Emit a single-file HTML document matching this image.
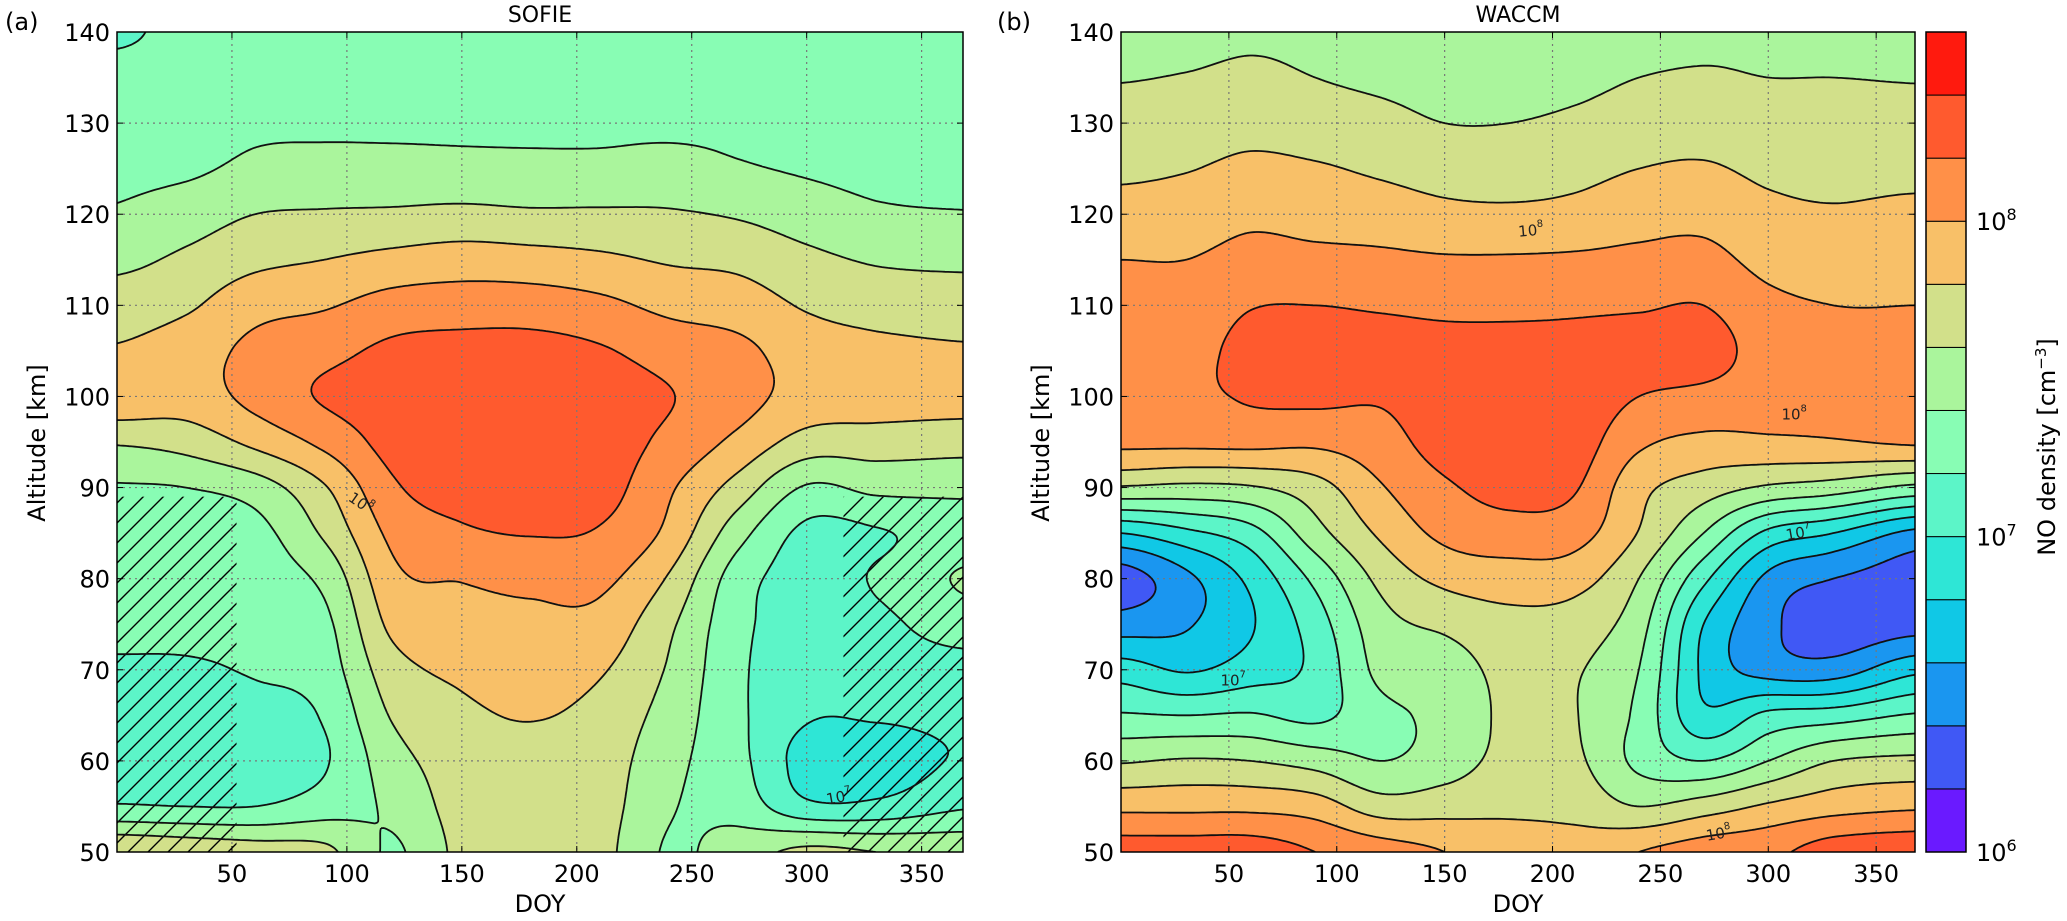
<!DOCTYPE html>
<html><head><meta charset="utf-8"><style>
html,body{margin:0;padding:0;background:#fff;}
svg{display:block;font-family:"DejaVu Sans","Liberation Sans",sans-serif;}
</style></head><body>
<svg id="fig" width="2067" height="921" viewBox="0 0 2067 921" xmlns="http://www.w3.org/2000/svg">
<defs>
<pattern id="hatch" patternUnits="userSpaceOnUse" width="20" height="20">
<path d="M0,20 L20,0 M-5,5 L5,-5 M15,25 L25,15" stroke="#000" stroke-width="1.4"/>
</pattern>
<clipPath id="clipA"><rect x="117" y="32" width="846" height="820"/></clipPath>
<clipPath id="clipB"><rect x="1121" y="32" width="794" height="820"/></clipPath>
</defs>
<g id="panelA"></g>
<g id="panelB"></g>
<g id="cbar"></g>
<text x="5" y="30" font-size="24">(a)</text>
<text x="997" y="30" font-size="24">(b)</text>
<text x="540" y="22" font-size="22" text-anchor="middle">SOFIE</text>
<text x="1518" y="22" font-size="22" text-anchor="middle">WACCM</text>
<text x="540" y="912" font-size="24" text-anchor="middle">DOY</text>
<text x="1518" y="912" font-size="24" text-anchor="middle">DOY</text>
<text transform="translate(45,443) rotate(-90)" font-size="24" text-anchor="middle">Altitude [km]</text>
<text transform="translate(1049,443) rotate(-90)" font-size="24" text-anchor="middle">Altitude [km]</text>
<text transform="translate(2055,447) rotate(-90)" font-size="24" text-anchor="middle">NO density [cm<tspan dy="-9" font-size="15">−3</tspan><tspan dy="9">]</tspan></text>
</svg>
<script>
const doys=[0,30,60,90,120,150,180,210,240,270,300,330,368];
const alts=[140,135,130,125,120,115,110,105,100,95,90,85,80,75,70,65,60,55,50];
const levels=[6.0,6.2,6.4,6.6,6.8,7.0,7.2,7.4,7.6,7.8,8.0,8.2,8.4,8.6];
const bandColors=["#6a1aff","#4058f5","#1a96f0","#10c8e6","#2ee6d6","#5cf5c8","#88fdb4","#aaf59c","#d2e08a","#f8c068","#ff9048","#ff5a2e","#ff1a0e"];
const xTicks=[50,100,150,200,250,300,350];
const yTicks=[50,60,70,80,90,100,110,120,130,140];
const cbTicks=[6,7,8];
// log10 NO density, one array per DOY column, altitudes 140..50 km
const sofie=[
[7.15,7.3,7.32,7.36,7.42,7.55,7.7,7.82,7.95,7.62,7.38,7.25,7.28,7.25,7.17,7.08,7.08,7.22,7.8],
[7.28,7.3,7.33,7.37,7.5,7.64,7.77,7.9,7.9,7.68,7.4,7.25,7.28,7.26,7.17,7.08,7.07,7.2,7.75],
[7.3,7.33,7.37,7.44,7.6,7.75,7.93,8.05,8.06,7.85,7.5,7.33,7.3,7.27,7.22,7.12,7.1,7.2,7.7],
[7.32,7.34,7.37,7.46,7.62,7.8,7.98,8.14,8.22,8.05,7.78,7.63,7.45,7.35,7.3,7.22,7.18,7.3,7.65],
[7.32,7.34,7.36,7.47,7.63,7.86,8.08,8.24,8.29,8.27,8.17,8.05,7.95,7.85,7.72,7.62,7.52,7.44,7.38],
[7.32,7.34,7.36,7.46,7.65,7.9,8.1,8.27,8.31,8.33,8.28,8.17,8.01,7.93,7.84,7.76,7.7,7.68,7.65],
[7.31,7.33,7.36,7.45,7.63,7.88,8.1,8.27,8.32,8.33,8.3,8.21,8.05,7.95,7.88,7.81,7.74,7.7,7.68],
[7.31,7.33,7.36,7.45,7.63,7.84,8.05,8.22,8.29,8.3,8.28,8.18,8.05,7.93,7.82,7.74,7.7,7.68,7.66],
[7.31,7.33,7.36,7.47,7.62,7.78,7.95,8.12,8.21,8.15,8.03,7.95,7.78,7.64,7.58,7.52,7.46,7.42,7.38],
[7.3,7.33,7.36,7.42,7.58,7.75,7.9,8.05,8.08,7.95,7.72,7.48,7.3,7.26,7.24,7.24,7.26,7.32,7.5],
[7.3,7.32,7.34,7.38,7.5,7.65,7.78,7.9,7.92,7.72,7.38,7.15,7.12,7.1,7.07,7.02,6.92,7.05,7.65],
[7.28,7.3,7.32,7.35,7.43,7.58,7.72,7.85,7.9,7.7,7.45,7.18,7.22,7.15,7.1,7.02,6.9,7.05,7.6],
[7.2,7.27,7.3,7.34,7.41,7.56,7.7,7.82,7.88,7.68,7.45,7.3,7.42,7.3,7.12,7.05,7.02,7.18,7.55]
];
const waccm=[
[7.5,7.59,7.67,7.76,7.88,8.0,8.07,8.12,8.12,8.05,7.58,6.8,6.3,6.5,6.9,7.22,7.58,7.95,8.3],
[7.53,7.61,7.7,7.79,7.9,8.0,8.08,8.14,8.15,8.05,7.55,6.95,6.55,6.58,6.78,7.2,7.62,7.95,8.3],
[7.57,7.64,7.74,7.84,7.96,8.06,8.19,8.25,8.22,8.06,7.58,7.12,6.85,6.78,6.9,7.22,7.6,7.95,8.3],
[7.55,7.6,7.7,7.82,7.93,8.05,8.2,8.27,8.24,8.04,7.72,7.52,7.25,7.1,7.05,7.15,7.52,7.9,8.2],
[7.5,7.56,7.66,7.77,7.9,8.04,8.18,8.27,8.22,8.12,7.98,7.83,7.65,7.52,7.45,7.35,7.4,7.7,8.1],
[7.46,7.52,7.6,7.72,7.85,8.02,8.16,8.26,8.3,8.28,8.17,8.05,7.85,7.64,7.5,7.45,7.5,7.72,8.0],
[7.45,7.5,7.6,7.7,7.84,8.02,8.16,8.26,8.33,8.32,8.26,8.12,7.9,7.74,7.66,7.64,7.66,7.76,7.9],
[7.48,7.54,7.64,7.74,7.86,8.03,8.17,8.26,8.32,8.3,8.22,8.08,7.88,7.7,7.62,7.61,7.64,7.74,7.88],
[7.52,7.6,7.7,7.8,7.92,8.05,8.18,8.28,8.2,8.04,7.86,7.79,7.6,7.48,7.4,7.35,7.35,7.6,8.0],
[7.56,7.62,7.72,7.82,7.94,8.06,8.2,8.28,8.15,7.95,7.7,7.4,7.05,6.8,6.76,6.85,7.2,7.7,8.1],
[7.55,7.6,7.68,7.76,7.85,7.94,8.05,8.12,8.1,7.96,7.57,6.95,6.55,6.45,6.52,7.05,7.4,7.83,8.15],
[7.52,7.6,7.67,7.74,7.82,7.91,8.0,8.07,8.08,7.98,7.5,6.8,6.4,6.28,6.5,7.1,7.6,7.92,8.3],
[7.5,7.59,7.66,7.74,7.85,7.93,8.0,8.04,8.08,8.03,7.35,6.55,6.3,6.32,6.75,7.22,7.65,7.97,8.35]
];
const NS="http://www.w3.org/2000/svg";
function mk(tag,attrs,parent){const e=document.createElementNS(NS,tag);for(const k in attrs)e.setAttribute(k,attrs[k]);if(parent)parent.appendChild(e);return e;}
function cub(p0,p1,p2,p3,t){return p1+0.5*t*(p2-p0+t*(2*p0-5*p1+4*p2-p3+t*(3*(p1-p2)+p3-p0)));}
function field(g,d,a){
  let i=0;while(i<doys.length-2&&d>doys[i+1])i++;
  let t=(d-doys[i])/(doys[i+1]-doys[i]);t=Math.max(0,Math.min(1,t));
  let u=(alts[0]-a)/5;let k=Math.floor(u);if(k>alts.length-2)k=alts.length-2;if(k<0)k=0;let s=u-k;s=Math.max(0,Math.min(1,s));
  const col=j=>{j=Math.max(0,Math.min(doys.length-1,j));const c=g[j];const r=q=>c[Math.max(0,Math.min(c.length-1,q))];return cub(r(k-1),r(k),r(k+1),r(k+2),s);};
  return cub(col(i-1),col(i),col(i+1),col(i+2),t);
}
function band(v){let b=Math.floor((v-levels[0])/0.2);return Math.max(0,Math.min(bandColors.length-1,b));}
function drawPanel(gid,grid,L,T,W,H,clip,hatches,labels,name){
  const root=document.getElementById(gid);
  const xS=d=>L+d/368*W, yS=a=>T+(140-a)/90*H;
  const xInv=px=>(px-L)/W*368, yInv=py=>140-(py-T)/H*90;
  const fill=mk('g',{'clip-path':'url(#'+clip+')'},root);
  
  
  const step=2;
  for(let py=T;py<T+H;py+=step){
    const a=yInv(py+step/2);let runStart=L,cur=-1;
    for(let px=L;px<=L+W;px++){
      const b=px<L+W?band(field(grid,xInv(px+0.5),a)):-2;
      if(b!==cur){
        if(cur>=0){mk('rect',{x:runStart,y:py,width:px-runStart+0.6,height:step+0.6,fill:bandColors[cur]},fill);}
        cur=b;runStart=px;
      }
    }
  }
  const gridG=mk('g',{stroke:'#777','stroke-width':1.2,'stroke-dasharray':'2,4'},root);
  
  
  xTicks.forEach(d=>mk('line',{x1:xS(d),x2:xS(d),y1:T,y2:T+H},gridG));
  yTicks.forEach(a=>{if(a>50&&a<140)mk('line',{x1:L,x2:L+W,y1:yS(a),y2:yS(a)},gridG);});
  hatches.forEach(h=>{const r=mk('rect',{x:xS(h[0]),y:yS(h[3]),width:xS(h[1])-xS(h[0]),height:yS(h[2])-yS(h[3]),fill:'url(#hatch)','clip-path':'url(#'+clip+')'},root);
    
    });
  const cs=3;const nx=Math.ceil(W/cs)+1,ny=Math.ceil(H/cs)+1;const V=[];
  for(let j=0;j<ny;j++){const row=[];const a=yInv(T+Math.min(H,j*cs));for(let i=0;i<nx;i++)row.push(field(grid,xInv(L+Math.min(W,i*cs)),a));V.push(row);}
  let dstr='';
  for(let li=1;li<levels.length-1;li++){const lv=levels[li];
    for(let j=0;j<ny-1;j++)for(let i=0;i<nx-1;i++){
      const x0=L+Math.min(W,i*cs),x1=L+Math.min(W,(i+1)*cs),y0=T+Math.min(H,j*cs),y1=T+Math.min(H,(j+1)*cs);
      const v00=V[j][i],v10=V[j][i+1],v01=V[j+1][i],v11=V[j+1][i+1];
      const pts=[];
      const e=(va,vb,xa,ya,xb,yb)=>{if((va<lv)!==(vb<lv)){const t=(lv-va)/(vb-va);pts.push([xa+(xb-xa)*t,ya+(yb-ya)*t]);}};
      e(v00,v10,x0,y0,x1,y0);e(v10,v11,x1,y0,x1,y1);e(v11,v01,x1,y1,x0,y1);e(v01,v00,x0,y1,x0,y0);
      for(let p=0;p+1<pts.length;p+=2)dstr+='M'+pts[p][0].toFixed(1)+','+pts[p][1].toFixed(1)+'L'+pts[p+1][0].toFixed(1)+','+pts[p+1][1].toFixed(1);
    }}
  const lines=mk('path',{d:dstr,fill:'none',stroke:'#111','stroke-width':1.8,'clip-path':'url(#'+clip+')'},root);
  
  
  labels.forEach(lb=>{const t=mk('text',{x:xS(lb[0]),y:yS(lb[1]),'font-size':15,'text-anchor':'middle','dominant-baseline':'central',fill:'#222',transform:'rotate('+lb[3]+' '+xS(lb[0])+' '+yS(lb[1])+')'},root);
    t.textContent='10';const sp=mk('tspan',{dy:-6,'font-size':10},t);sp.textContent=lb[2];
    
    });
  const fr=mk('rect',{x:L,y:T,width:W,height:H,fill:'none',stroke:'#000','stroke-width':1.5},root);
  
  
  xTicks.forEach(d=>{mk('line',{x1:xS(d),x2:xS(d),y1:T+H,y2:T+H-6,stroke:'#000'},root);mk('line',{x1:xS(d),x2:xS(d),y1:T,y2:T+6,stroke:'#000'},root);
    const t=mk('text',{x:xS(d),y:T+H+30,'font-size':24,'text-anchor':'middle'},root);t.textContent=d;
    
    });
  yTicks.forEach(a=>{mk('line',{x1:L,x2:L+6,y1:yS(a),y2:yS(a),stroke:'#000'},root);mk('line',{x1:L+W,x2:L+W-6,y1:yS(a),y2:yS(a),stroke:'#000'},root);
    const t=mk('text',{x:L-7,y:yS(a)+9,'font-size':24,'text-anchor':'end'},root);t.textContent=a;
    
    });
}
drawPanel('panelA',sofie,117,32,846,820,'clipA',[[0,52,50,89],[316,368,50,89]],[[106,88.3,'8',35],[314,56,'7',-10]],'sofie');
drawPanel('panelB',waccm,1121,32,794,820,'clipB',[],[[190,118.2,'8',-5],[312,98,'8',0],[277,52,'8',-10],[52,68.8,'7',0],[314,85,'7',-10]],'waccm');
(function(){
  const root=document.getElementById('cbar');const L=1926,W=40,T=32,H=820;
  const cS=v=>T+(levels[levels.length-1]-v)/(levels[levels.length-1]-levels[0])*H;
  for(let i=0;i<bandColors.length;i++){
    const r=mk('rect',{x:L,y:cS(levels[i+1]),width:W,height:cS(levels[i])-cS(levels[i+1]),fill:bandColors[i],stroke:'#000','stroke-width':1},root);
    
    
  }
  mk('rect',{x:L,y:T,width:W,height:H,fill:'none',stroke:'#000','stroke-width':1.5},root);
  cbTicks.forEach(v=>{const t=mk('text',{x:L+W+10,y:cS(v)+9,'font-size':24},root);t.textContent='10';const sp=mk('tspan',{dy:-10,'font-size':16},t);sp.textContent=v;
    
    });
})();
</script>
</body></html>
